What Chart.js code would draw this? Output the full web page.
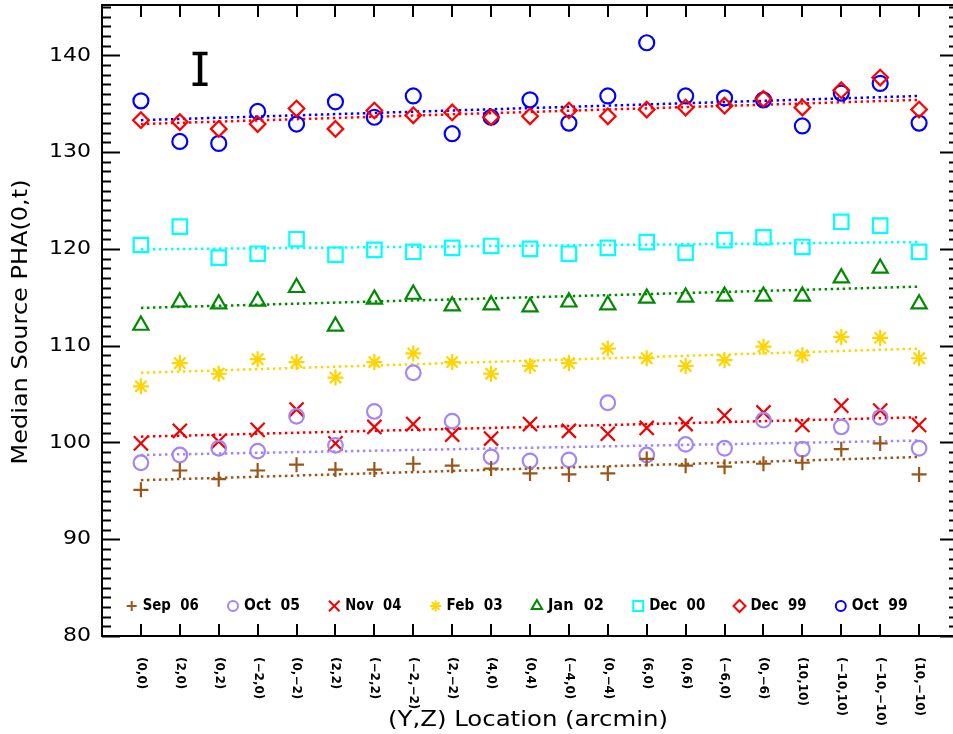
<!DOCTYPE html>
<html><head><meta charset="utf-8">
<script src="https://cdn.jsdelivr.net/npm/chart.js@4/dist/chart.umd.min.js"></script>
<style>html,body{margin:0;padding:0;background:#fff;overflow:hidden;width:953px;height:734px}#wrap{width:959px;height:734px;position:relative}</style>
</head><body><div id="wrap"><canvas id="c" width="959" height="734"></canvas></div>
<script>
// ---------------- data ----------------
const locations = ['(0,0)','(2,0)','(0,2)','(\u22122,0)','(0,\u22122)','(2,2)','(\u22122,2)','(\u22122,\u22122)','(2,\u22122)','(4,0)','(0,4)','(\u22124,0)','(0,\u22124)','(6,0)','(0,6)','(\u22126,0)','(0,\u22126)','(10,10)','(\u221210,10)','(\u221210,\u221210)','(10,\u221210)'];
const seriesNames = ['Sep 06','Oct 05','Nov 04','Feb 03','Jan 02','Dec 00','Dec 99','Oct 99'];

const sep06 = [95.1, 97.1, 96.2, 97.1, 97.7, 97.2, 97.2, 97.8, 97.6, 97.3, 96.8, 96.7, 96.8, 98.3, 97.6, 97.5, 97.8, 97.9, 99.3, 99.9, 96.7];
const oct05 = [97.9, 98.7, 99.4, 99.1, 102.7, 99.7, 103.2, 107.2, 102.2, 98.5, 98.1, 98.2, 104.1, 98.7, 99.8, 99.4, 102.3, 99.3, 101.6, 102.6, 99.4];
const nov04 = [99.9, 101.2, 100.1, 101.3, 103.4, 99.9, 101.6, 101.9, 100.8, 100.4, 101.9, 101.2, 100.9, 101.5, 101.9, 102.8, 103.1, 101.8, 103.8, 103.3, 101.8];
const feb03 = [105.8, 108.2, 107.1, 108.6, 108.3, 106.7, 108.3, 109.2, 108.3, 107.1, 107.9, 108.2, 109.7, 108.7, 107.9, 108.5, 109.9, 109.0, 110.9, 110.8, 108.7];
const jan02 = [112.1, 114.5, 114.3, 114.6, 116.0, 112.0, 114.8, 115.3, 114.1, 114.2, 114.0, 114.5, 114.2, 114.9, 115.0, 115.1, 115.1, 115.1, 117.0, 118.0, 114.3];
const dec00 = [120.4, 122.3, 119.1, 119.5, 121.0, 119.4, 119.9, 119.7, 120.1, 120.3, 120.0, 119.5, 120.1, 120.7, 119.6, 120.9, 121.2, 120.2, 122.8, 122.4, 119.7];
const dec99 = [133.3, 133.1, 132.4, 132.9, 134.5, 132.4, 134.3, 133.8, 134.1, 133.6, 133.7, 134.3, 133.7, 134.4, 134.6, 134.8, 135.5, 134.6, 136.4, 137.7, 134.4];
const oct99 = [135.3, 131.1, 130.9, 134.2, 132.9, 135.2, 133.6, 135.8, 131.9, 133.6, 135.4, 133.0, 135.8, 141.3, 135.8, 135.6, 135.4, 132.7, 136.1, 137.1, 133.0];

// dotted fit lines: value at first location and at last location
const sep06Fit = [96.1, 98.5];
const oct05Fit = [98.7, 100.2];
const nov04Fit = [100.6, 102.6];
const feb03Fit = [107.2, 109.7];
const jan02Fit = [113.9, 116.1];
const dec00Fit = [119.95, 120.7];
const dec99Fit = [132.9, 135.4];
const oct99Fit = [133.3, 135.8];

const yTickLabels = [80, 90, 100, 110, 120, 130, 140];
const errorBarX = 1.52;
const errorBarRange = [137.0, 140.2];

// ---------------- styles ----------------
const seriesValues = [sep06, oct05, nov04, feb03, jan02, dec00, dec99, oct99];
const seriesFits = [sep06Fit, oct05Fit, nov04Fit, feb03Fit, jan02Fit, dec00Fit, dec99Fit, oct99Fit];
const colors = ['#9A5518', '#A385FA', '#F00000', '#FFD400', '#008A00', '#00FFFF', '#FF0000', '#0000FF'];
const styles = ['cross', 'circle', 'crossRot', 'star', 'triangle', 'rect', 'rectRot', 'circle'];
const radii = [7.5, 7.3, 10, 8, 8.8, 10.2, 7.8, 7.5];
const legendRadii = [5, 5, 7.5, 5.5, 6, 7, 6, 5];

const lastIdx = locations.length - 1;
const datasets = [];
seriesValues.forEach((vals, k) => {
  datasets.push({
    label: seriesNames[k],
    data: vals.map((v, i) => ({x: i, y: v})),
    showLine: false,
    pointStyle: styles[k],
    pointRadius: radii[k],
    pointHoverRadius: radii[k],
    pointBorderWidth: 2.2,
    pointHoverBorderWidth: 2.2,
    borderColor: colors[k],
    backgroundColor: 'rgba(0,0,0,0)',
    pointBackgroundColor: 'rgba(0,0,0,0)',
    order: 1
  });
});
seriesFits.forEach((f, k) => {
  datasets.push({
    label: seriesNames[k] + ' fit',
    data: [{x: 0, y: f[0]}, {x: lastIdx, y: f[1]}],
    showLine: true,
    borderColor: colors[k],
    borderWidth: 2.5,
    borderDash: [2.5, 3.5],
    pointRadius: 0,
    order: 5
  });
});

function drawText(ctx, text, x, y, font, width, align, angle) {
  ctx.save();
  ctx.font = font;
  const w = ctx.measureText(text).width;
  const sx = width ? width / w : 1;
  ctx.translate(x, y);
  if (angle) ctx.rotate(angle);
  ctx.scale(sx, 1);
  ctx.textAlign = align;
  ctx.textBaseline = 'middle';
  ctx.fillStyle = '#000';
  ctx.fillText(text, 0, 0);
  ctx.restore();
}

function drawMarker(ctx, style, x, y, r, color) {
  ctx.save();
  ctx.strokeStyle = color; ctx.lineWidth = 2;
  ctx.beginPath();
  if (style === 'circle') { ctx.arc(x, y, r, 0, Math.PI * 2); }
  else if (style === 'cross') { ctx.moveTo(x - r, y); ctx.lineTo(x + r, y); ctx.moveTo(x, y - r); ctx.lineTo(x, y + r); }
  else if (style === 'crossRot') { const d = r * Math.SQRT1_2; ctx.moveTo(x - d, y - d); ctx.lineTo(x + d, y + d); ctx.moveTo(x - d, y + d); ctx.lineTo(x + d, y - d); }
  else if (style === 'star') { const d = r * Math.SQRT1_2; ctx.moveTo(x - r, y); ctx.lineTo(x + r, y); ctx.moveTo(x, y - r); ctx.lineTo(x, y + r); ctx.moveTo(x - d, y - d); ctx.lineTo(x + d, y + d); ctx.moveTo(x - d, y + d); ctx.lineTo(x + d, y - d); }
  else if (style === 'triangle') { for (let j = 0; j < 3; j++) { const a = j * 2 * Math.PI / 3; const px = x + Math.sin(a) * r, py = y - Math.cos(a) * r; if (j) ctx.lineTo(px, py); else ctx.moveTo(px, py); } ctx.closePath(); }
  else if (style === 'rect') { const s = r * Math.SQRT1_2; ctx.rect(x - s, y - s, 2 * s, 2 * s); }
  else if (style === 'rectRot') { ctx.moveTo(x - r, y); ctx.lineTo(x, y - r); ctx.lineTo(x + r, y); ctx.lineTo(x, y + r); ctx.closePath(); }
  ctx.stroke();
  ctx.restore();
}

const decorPlugin = {
  id: 'decor',
  afterDatasetsDraw(chart) {
    const {ctx, chartArea: a, scales} = chart;
    const xs = scales.x, ys = scales.y;
    ctx.save();
    ctx.strokeStyle = '#000';
    ctx.lineWidth = 2;
    ctx.strokeRect(a.left, a.top, a.right - a.left, a.bottom - a.top);
    // y ticks (minor every 1, major at labels)
    for (let v = Math.ceil(ys.min); v <= ys.max; v++) {
      const py = Math.round(ys.getPixelForValue(v)) + 0.5;
      const major = yTickLabels.includes(v);
      const len = major ? 18 : 9;
      ctx.beginPath();
      ctx.moveTo(a.left, py); ctx.lineTo(a.left + len, py);
      ctx.moveTo(a.right, py); ctx.lineTo(a.right - len, py);
      ctx.stroke();
    }
    // x ticks
    locations.forEach((lab, i) => {
      const px = Math.round(xs.getPixelForValue(i));
      ctx.beginPath();
      ctx.moveTo(px, a.bottom); ctx.lineTo(px, a.bottom - 12);
      ctx.moveTo(px, a.top); ctx.lineTo(px, a.top + 12);
      ctx.stroke();
    });
    ctx.restore();
    // y tick labels
    yTickLabels.forEach(v => {
      const t = String(v);
      drawText(ctx, t, 91, ys.getPixelForValue(v), '20px "DejaVu Sans"', t.length * 14, 'right', 0);
    });
    // x tick labels, rotated clockwise
    locations.forEach((lab, i) => {
      drawText(ctx, lab, xs.getPixelForValue(i), a.bottom + 21, 'bold 12px "DejaVu Sans"', 0, 'left', Math.PI / 2);
    });
    // axis titles
    drawText(ctx, 'Median Source PHA(0,t)', 22, 322, '21px "DejaVu Sans"', 285, 'center', -Math.PI / 2);
    drawText(ctx, '(Y,Z) Location (arcmin)', 528, 720, '22px "DejaVu Sans"', 280, 'center', 0);
    // legend
    const ly = 606;
    seriesNames.forEach((name, k) => {
      const mx = 131.7 + k * 101.3;
      drawMarker(ctx, styles[k], mx, ly, legendRadii[k], colors[k]);
      drawText(ctx, name.replace(' ', '  '), mx + 11, ly, 'bold 16px "DejaVu Sans"', 56, 'left', 0);
    });
    // error bar
    const ex = xs.getPixelForValue(errorBarX);
    const e1 = ys.getPixelForValue(errorBarRange[0]);
    const e2 = ys.getPixelForValue(errorBarRange[1]);
    ctx.save();
    ctx.strokeStyle = '#000';
    ctx.lineWidth = 4.5;
    ctx.beginPath(); ctx.moveTo(ex, e1); ctx.lineTo(ex, e2); ctx.stroke();
    ctx.lineWidth = 3.5;
    ctx.beginPath();
    ctx.moveTo(ex - 7.5, e1); ctx.lineTo(ex + 7.5, e1);
    ctx.moveTo(ex - 7.5, e2); ctx.lineTo(ex + 7.5, e2);
    ctx.stroke();
    ctx.restore();
  }
};

new Chart(document.getElementById('c'), {
  type: 'scatter',
  data: {datasets},
  options: {
    responsive: false,
    animation: false,
    events: [],
    layout: {autoPadding: false, padding: {left: 102, right: 1, top: 5, bottom: 98}},
    plugins: {legend: {display: false}, tooltip: {enabled: false}},
    scales: {
      x: {type: 'linear', min: -1, max: 21, display: false},
      y: {type: 'linear', min: 80, max: 145.2, display: false}
    }
  },
  plugins: [decorPlugin]
});
</script></body></html>
